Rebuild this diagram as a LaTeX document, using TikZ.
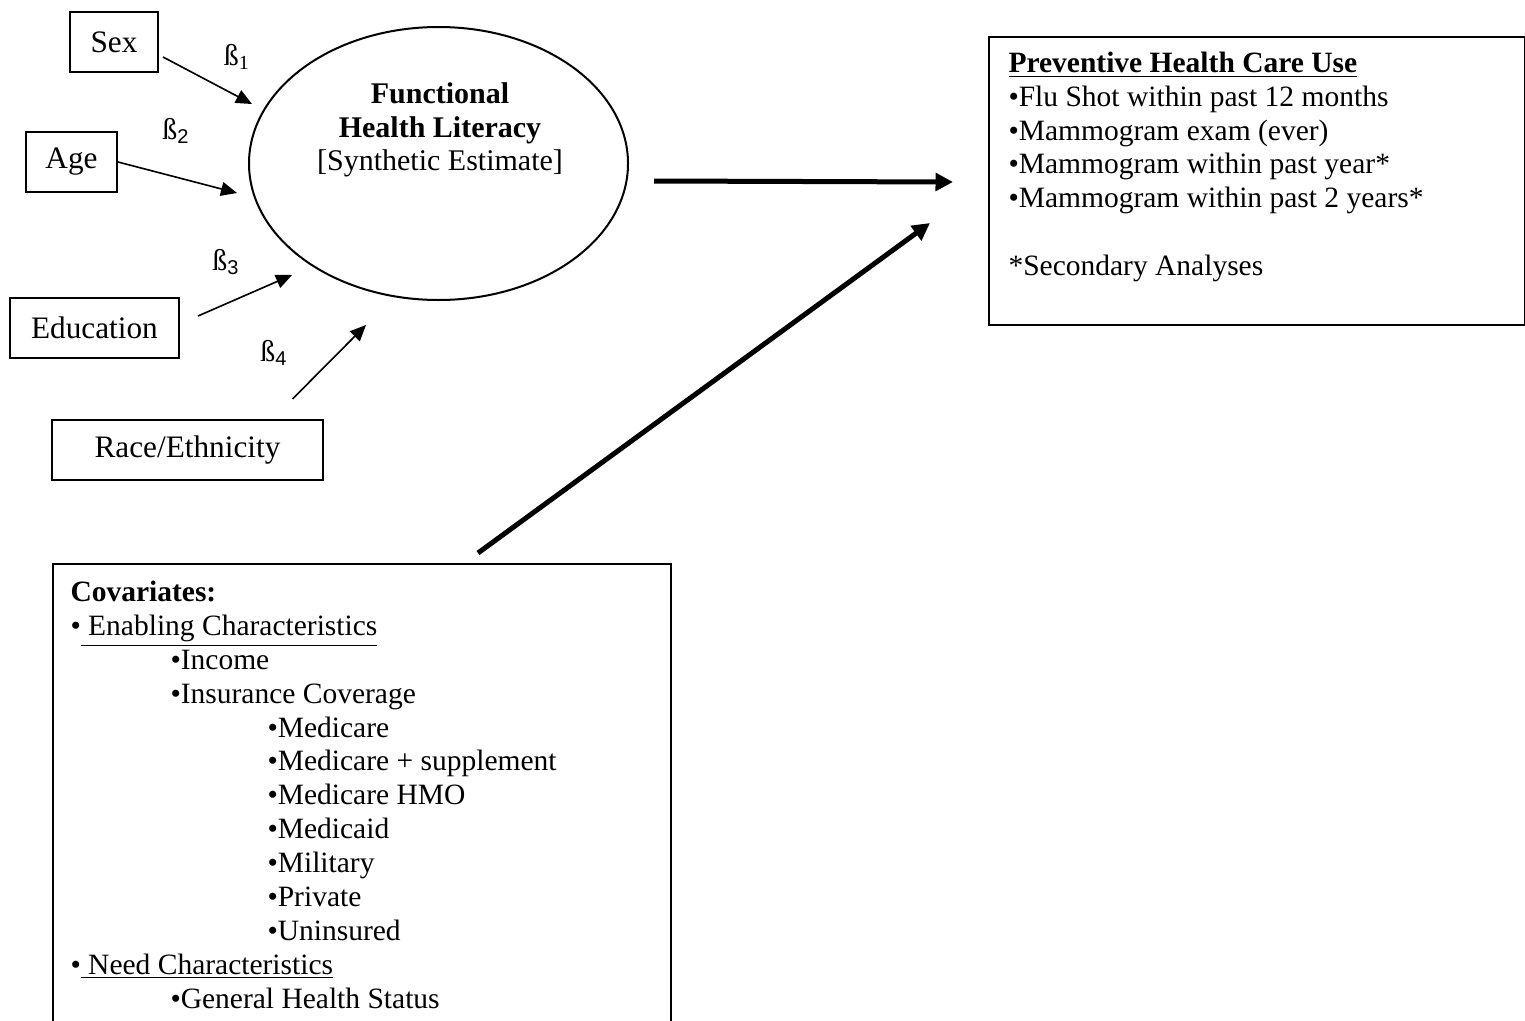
\documentclass[tikz,border=0pt]{standalone}
\usepackage{fontspec}
\setmainfont{Liberation Serif}
\setsansfont{Liberation Sans}
\usetikzlibrary{shapes.geometric,arrows.meta}

\begin{document}
\begin{tikzpicture}[
        x=0.4pt, y=-0.4pt,
        var/.style={rectangle, draw=black, line width=0.8pt, inner sep=0pt, minimum height=24pt, font=\fontsize{12.5}{15}\selectfont},
        lat/.style={ellipse, draw=black, line width=0.8pt, minimum width=151.6pt, minimum height=109.2pt},
        coef/.style={inner sep=0pt, font=\fontsize{12}{14}\selectfont},
        listtxt/.style={align=left, inner sep=0pt, anchor=base west, font=\fontsize{11.8}{13.5}\selectfont},
        coefarrow/.style={-{Triangle[length=6.4pt,width=5.6pt]}, line width=0.65pt},
        mainarrow/.style={-{Triangle[length=7pt,width=7pt]}, line width=2pt}
    ]
        \useasboundingbox (0,0) rectangle (1525,1020);
        \clip (0,0) rectangle (1525,1020);
        \fill[white] (0,0) rectangle (1525,1020);

        % Nodes
        \node[var, minimum width=35.2pt] (sex) at (114,42) {Sex};
        \node[var, minimum width=36.4pt] (age) at (71.5,162) {Age};
        \node[var, minimum width=67.6pt] (edu) at (94.5,328) {Education};
        \node[var, minimum width=108.4pt] (race) at (187.5,450) {Race/Ethnicity};
        \node[lat] (fhl) at (438.5,163.5) {};
        \node[align=center, inner sep=0pt, font=\fontsize{12}{13.4}\selectfont] (fhltext) at (440,130)
            {\textbf{Functional}\\\textbf{Health Literacy}\\{[Synthetic Estimate]}};

        % Coefficients
        \node[coef] (b1) at (237,57) {ß\textsubscript{1}};
        \node[coef] (b2) at (176,131) {ß\textsubscript{\sffamily 2}};
        \node[coef] (b3) at (226,262) {ß\textsubscript{\sffamily 3}};
        \node[coef] (b4) at (274,353) {ß\textsubscript{\sffamily 4}};

        \coordinate (sexTip) at (252,104);
        \coordinate (ageTip) at (237,193);
        \coordinate (eduTip) at (292,275);
        \coordinate (raceTip) at (366,325);

        % Outcome box (base = last line)
        \node[var, anchor=north west, minimum width=214.4pt, minimum height=115.2pt] (prev) at (988,36) {};
        \node[listtxt] (prevtext) at (1008,275)
            {\textbf{\underline{Preventive Health Care Use}}\\
             •Flu Shot within past 12 months\\
             •Mammogram exam (ever)\\
             •Mammogram within past year*\\
             •Mammogram within past 2 years*\\
             \mbox{}\\
             {*}Secondary Analyses};

        % Covariates box (runs past the bottom edge)
        \node[var, anchor=north west, minimum width=247.2pt, minimum height=200pt] (cov) at (52,563) {};
        \node[listtxt, font=\fontsize{11.8}{13.55}\selectfont] (covtext) at (70,1008)
            {\textbf{Covariates:}\\
             •\underline{\ Enabling Characteristics}\\
             \hspace*{40pt}•Income\\
             \hspace*{40pt}•Insurance Coverage\\
             \hspace*{78.8pt}•Medicare\\
             \hspace*{78.8pt}•Medicare + supplement\\
             \hspace*{78.8pt}•Medicare HMO\\
             \hspace*{78.8pt}•Medicaid\\
             \hspace*{78.8pt}•Military\\
             \hspace*{78.8pt}•Private\\
             \hspace*{78.8pt}•Uninsured\\
             •\underline{\ Need Characteristics}\\
             \hspace*{40pt}•General Health Status};

        % Edges
        \draw[coefarrow] ([xshift=1.6pt,yshift=-6pt]sex.east) -- (sexTip);
        \draw[coefarrow] (age.east) -- (ageTip);
        \draw[coefarrow] ([xshift=7.2pt,yshift=4.8pt]edu.east) -- (eduTip);
        \draw[coefarrow] ([xshift=42pt,yshift=8pt]race.north) -- (raceTip);
        \draw[mainarrow] ([xshift=10pt,yshift=-7pt]fhl.east) -- ([xshift=-14pt,yshift=-0.4pt]prev.west);
        \draw[mainarrow] ([xshift=170.4pt,yshift=4pt]cov.north west) -- ([xshift=-23.2pt,yshift=-16.8pt]prev.west);

    \end{tikzpicture}
\end{document}
